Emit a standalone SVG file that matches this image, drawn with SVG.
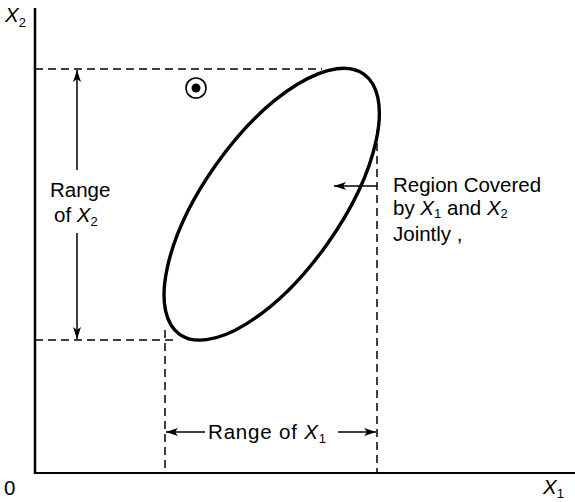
<svg xmlns="http://www.w3.org/2000/svg" width="575" height="502" viewBox="0 0 575 502">
<style>
.t{font-family:"Liberation Sans",Arial,sans-serif;font-size:20.5px;fill:#000}
.i{font-style:italic}
.s{font-size:13px}
.d{stroke:#000;stroke-width:1.5;stroke-dasharray:8 5;fill:none}
.l{stroke:#000;stroke-width:1.5;fill:none}
</style>
<defs>
<marker id="ah" viewBox="0 0 12 8" refX="12" refY="4" markerWidth="12" markerHeight="8" markerUnits="userSpaceOnUse" orient="auto">
<path d="M0,0 L12,4 L0,8 L3,4 Z" fill="#000"/>
</marker>
</defs>
<rect width="575" height="502" fill="#fff"/>
<g id="axes">
<line x1="35" y1="8" x2="35" y2="474" stroke="#000" stroke-width="2.5"/>
<line x1="34" y1="473" x2="575" y2="473" stroke="#000" stroke-width="2"/>
<text class="t" x="4" y="495">0</text>
<text class="t i" x="543" y="494">X<tspan class="s" font-style="normal" dy="4">1</tspan></text>
<text class="t i" x="5" y="22">X<tspan class="s" font-style="normal" dy="5">2</tspan></text>
</g>
<g id="connectors">
<line class="d" x1="35" y1="69" x2="322" y2="69"/>
<line class="d" x1="35" y1="340" x2="176" y2="340"/>
<line class="d" x1="165" y1="330" x2="165" y2="473"/>
<line class="d" x1="377" y1="130" x2="377" y2="473"/>
<line class="l" x1="77" y1="170" x2="77" y2="70" marker-end="url(#ah)"/>
<line class="l" x1="77" y1="233" x2="77" y2="339" marker-end="url(#ah)"/>
<line class="l" x1="205" y1="432" x2="166" y2="432" marker-end="url(#ah)"/>
<line class="l" x1="338" y1="432" x2="376" y2="432" marker-end="url(#ah)"/>
<line class="l" x1="377" y1="186" x2="334" y2="186" marker-end="url(#ah)"/>
</g>
<g id="region">
<ellipse cx="271.7" cy="204.2" rx="159.4" ry="68.3" transform="rotate(-54.7 271.7 204.2)" fill="none" stroke="#000" stroke-width="3.4"/>
</g>
<g id="point">
<circle cx="196" cy="88" r="10" fill="none" stroke="#000" stroke-width="1.6"/>
<circle cx="196" cy="88" r="4.5" fill="#000"/>
</g>
<g id="labels">
<text class="t" x="50" y="197">Range</text>
<text class="t" x="54" y="222">of <tspan class="i">X</tspan><tspan class="s" dy="4">2</tspan></text>
<text class="t" x="208" y="439" textLength="118">Range of <tspan class="i">X</tspan><tspan class="s" dy="4">1</tspan></text>
<text class="t" x="393" y="192">Region Covered</text>
<text class="t" x="393" y="215">by <tspan class="i">X</tspan><tspan class="s" dy="3">1</tspan><tspan dy="-3"> and </tspan><tspan class="i">X</tspan><tspan class="s" dy="3">2</tspan></text>
<text class="t" x="393" y="241">Jointly ,</text>
</g>
</svg>
